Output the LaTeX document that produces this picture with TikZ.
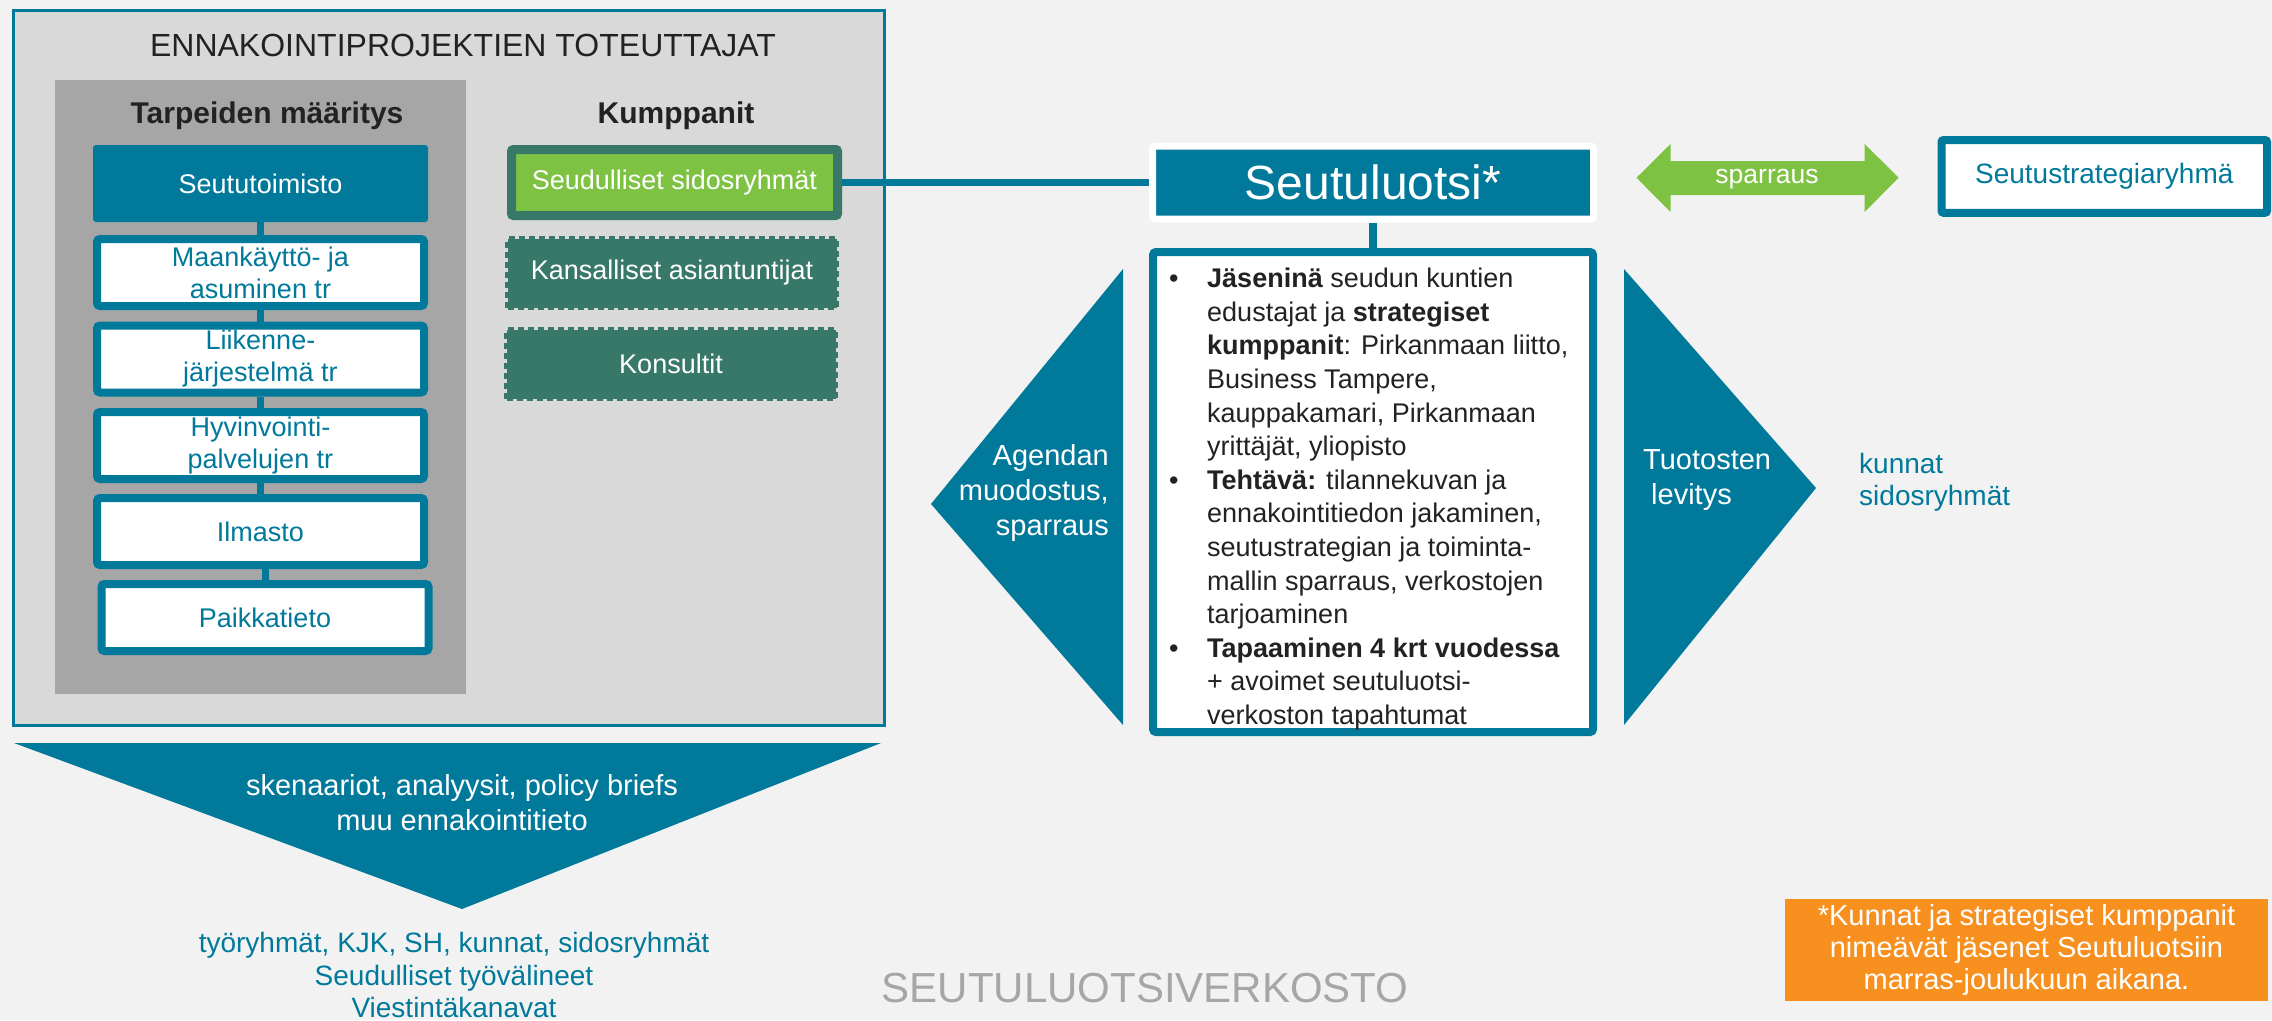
\documentclass[tikz,border=0pt]{standalone}
\usepackage{fontspec}
\setmainfont{Liberation Sans}
\definecolor{tealc}{HTML}{00799B}
\definecolor{bgc}{HTML}{F2F2F2}
\definecolor{outerc}{HTML}{D9D9D9}
\definecolor{panelc}{HTML}{A6A6A6}
\definecolor{greenc}{HTML}{7DC242}
\definecolor{dkgreen}{HTML}{387868}
\definecolor{orangec}{HTML}{F7901E}
\definecolor{darktext}{HTML}{222222}
\definecolor{greytext}{HTML}{A6A6A6}
\newcommand\fsz[2]{\fontsize{#1}{#2}\selectfont}
\pgfdeclarelayer{back}
\pgfdeclarelayer{conn}
\pgfsetlayers{back,conn,main}
\begin{document}
\begin{tikzpicture}[x=1pt,y=-1pt,
  lbox/.style={draw=tealc, line width=8pt, fill=white, rounded corners=3pt,
    minimum width=327pt, minimum height=67pt, inner sep=0pt, align=center,
    text=tealc, font=\fsz{27}{32}},
  dbox/.style={draw=dkgreen, fill=dkgreen, line width=5pt, dash pattern=on 6pt off 4pt,
    minimum width=329pt, minimum height=69pt, inner sep=0pt, text=white, font=\fsz{27}{32}},
  conline/.style={draw=tealc, line width=7pt},
  heading/.style={text=darktext, font=\fsz{30}{34}\bfseries, inner sep=0pt},
  plain/.style={inner sep=0pt, align=center}
]
\useasboundingbox (0,0) rectangle (2272,1020);
\begin{pgfonlayer}{back}
\fill[bgc] (0,0) rectangle (2272,1020);
\node[draw=tealc, line width=2.5pt, fill=outerc, minimum width=871pt, minimum height=715pt,
  anchor=north west, inner sep=0pt] (outer) at (12,9) {};
\node[fill=panelc, minimum width=411pt, minimum height=614pt, anchor=north west, inner sep=0pt] (panel) at (55,80) {};
\end{pgfonlayer}

% titles
\node[plain, text=darktext, font=\fsz{32}{36}] (title) at (463,45) {ENNAKOINTIPROJEKTIEN TOTEUTTAJAT};
\node[heading] (tarp) at (267,116) {Tarpeiden määritys};
\node[heading] (kump) at (676,116) {Kumppanit};

% left column
\node[fill=tealc, rounded corners=3pt, minimum width=335pt, minimum height=77pt, inner sep=0pt,
  text=white, font=\fsz{27}{32}] (seututoim) at (260.5,183.5) {Seututoimisto};
\node[lbox] (maank) at (260.5,272.5) {Maankäyttö- ja\\asuminen tr};
\node[lbox] (liik) at (260.5,359) {Liikenne-\\järjestelmä tr};
\node[lbox] (hyv) at (260.5,445.5) {Hyvinvointi-\\palvelujen tr};
\node[lbox] (ilm) at (260.5,531.5) {Ilmasto};
\node[lbox] (paik) at (265,617.5) {Paikkatieto};

% partners
\node[draw=dkgreen, line width=9pt, fill=greenc, rounded corners=2pt, minimum width=326pt, minimum height=66pt,
  inner sep=0pt, text=white, font=\fsz{27}{32}] (seud) at (674.5,182.5) {Seudulliset sidosryhmät};
\node[dbox] (kans) at (672,273) {Kansalliset asiantuntijat};
\node[dbox] (kons) at (671,364) {Konsultit};

% Seutuluotsi
\node[fill=tealc, draw=white, line width=7pt, rounded corners=3pt, minimum width=441pt, minimum height=73pt,
  inner sep=0pt, text=white, font=\fsz{48}{52}] (luotsi) at (1373,182.5) {Seutuluotsi*};
\node[fill=white, draw=tealc, line width=8pt, rounded corners=3pt, minimum width=440pt, minimum height=480pt,
  inner sep=0pt] (tbox) at (1373,492) {};
\node[anchor=north west, inner sep=0pt, align=left, font=\fsz{27}{33.6}, text=darktext] (bul) at (1169,268) {%
\makebox[38pt][l]{•}\textbf{Jäseninä} seudun kuntien\\
\hspace*{38pt}edustajat ja \textbf{strategiset}\\
\hspace*{38pt}\textbf{kumppanit}: Pirkanmaan liitto,\\
\hspace*{38pt}Business Tampere,\\
\hspace*{38pt}kauppakamari, Pirkanmaan\\
\hspace*{38pt}yrittäjät, yliopisto\\
\makebox[38pt][l]{•}\textbf{Tehtävä:} tilannekuvan ja\\
\hspace*{38pt}ennakointitiedon jakaminen,\\
\hspace*{38pt}seutustrategian ja toiminta-\\
\hspace*{38pt}mallin sparraus, verkostojen\\
\hspace*{38pt}tarjoaminen\\
\makebox[38pt][l]{•}\textbf{Tapaaminen 4 krt vuodessa}\\
\hspace*{38pt}+ avoimet seutuluotsi-\\
\hspace*{38pt}verkoston tapahtumat};

% side triangles
\fill[tealc] (1123,269) -- (931,504) -- (1123,725) -- cycle;
\node[inner sep=0pt, anchor=east, align=right, text=white, font=\fsz{29}{35}] (agenda) at (1109,492.5) {Agendan\\muodostus,\\sparraus};
\fill[tealc] (1624,269) -- (1816,488) -- (1624,725) -- cycle;
\node[inner sep=0pt, anchor=west, align=left, text=white, font=\fsz{29}{35}] (tuot) at (1643,480) {Tuotosten\\\hspace*{8pt}levitys};
\node[inner sep=0pt, anchor=west, align=left, text=tealc, font=\fsz{28}{32}] (kunnat) at (1859,482) {kunnat\\sidosryhmät};

% sparraus arrow
\fill[greenc] (1636.5,177.7) -- (1670.5,144) -- (1670.5,161) -- (1864.6,161) -- (1864.6,144)
  -- (1898.6,177.7) -- (1864.6,212) -- (1864.6,195) -- (1670.5,195) -- (1670.5,212) -- cycle;
\node[plain, text=white, font=\fsz{26.5}{30}] (sparr) at (1767,179) {sparraus};
\node[fill=white, draw=tealc, line width=8pt, rounded corners=2pt, minimum width=325.5pt, minimum height=72.7pt,
  inner sep=0pt, text=tealc, font=\fsz{28}{32}] (sstrat) at (2104.25,176.4) {Seutustrategiaryhmä};

% bottom triangle
\fill[tealc] (14,743) -- (881,743) -- (462,909) -- cycle;
\node[plain, text=white, font=\fsz{29}{35}] (skena) at (462,802.5) {skenaariot, analyysit, policy briefs\\muu ennakointitieto};
\node[plain, text=tealc, font=\fsz{28}{32.5}] (tyor) at (454,975) {työryhmät, KJK, SH, kunnat, sidosryhmät\\Seudulliset työvälineet\\Viestintäkanavat};

\node[plain, text=greytext, font=\fsz{42}{46}] (verk) at (1145,988) {SEUTULUOTSIVERKOSTO};

\node[fill=orangec, minimum width=483pt, minimum height=102pt, inner sep=0pt, align=center,
  text=white, font=\fsz{29}{32}] (note) at (2026.5,950) {*Kunnat ja strategiset kumppanit\\nimeävät jäsenet Seutuluotsiin\\marras-joulukuun aikana.};

% connectors
\begin{pgfonlayer}{conn}
\draw[conline] (seututoim.south) -- (maank.north);
\draw[conline] (maank.south) -- (liik.north);
\draw[conline] (liik.south) -- (hyv.north);
\draw[conline] (hyv.south) -- (ilm.north);
\draw[conline] (paik.north |- ilm.south) -- (paik.north);
\draw[conline] (seud.east) -- (seud.east -| luotsi.west);
\draw[draw=tealc, line width=8pt] (luotsi.south) -- (tbox.north);
\end{pgfonlayer}
\end{tikzpicture}
\end{document}
